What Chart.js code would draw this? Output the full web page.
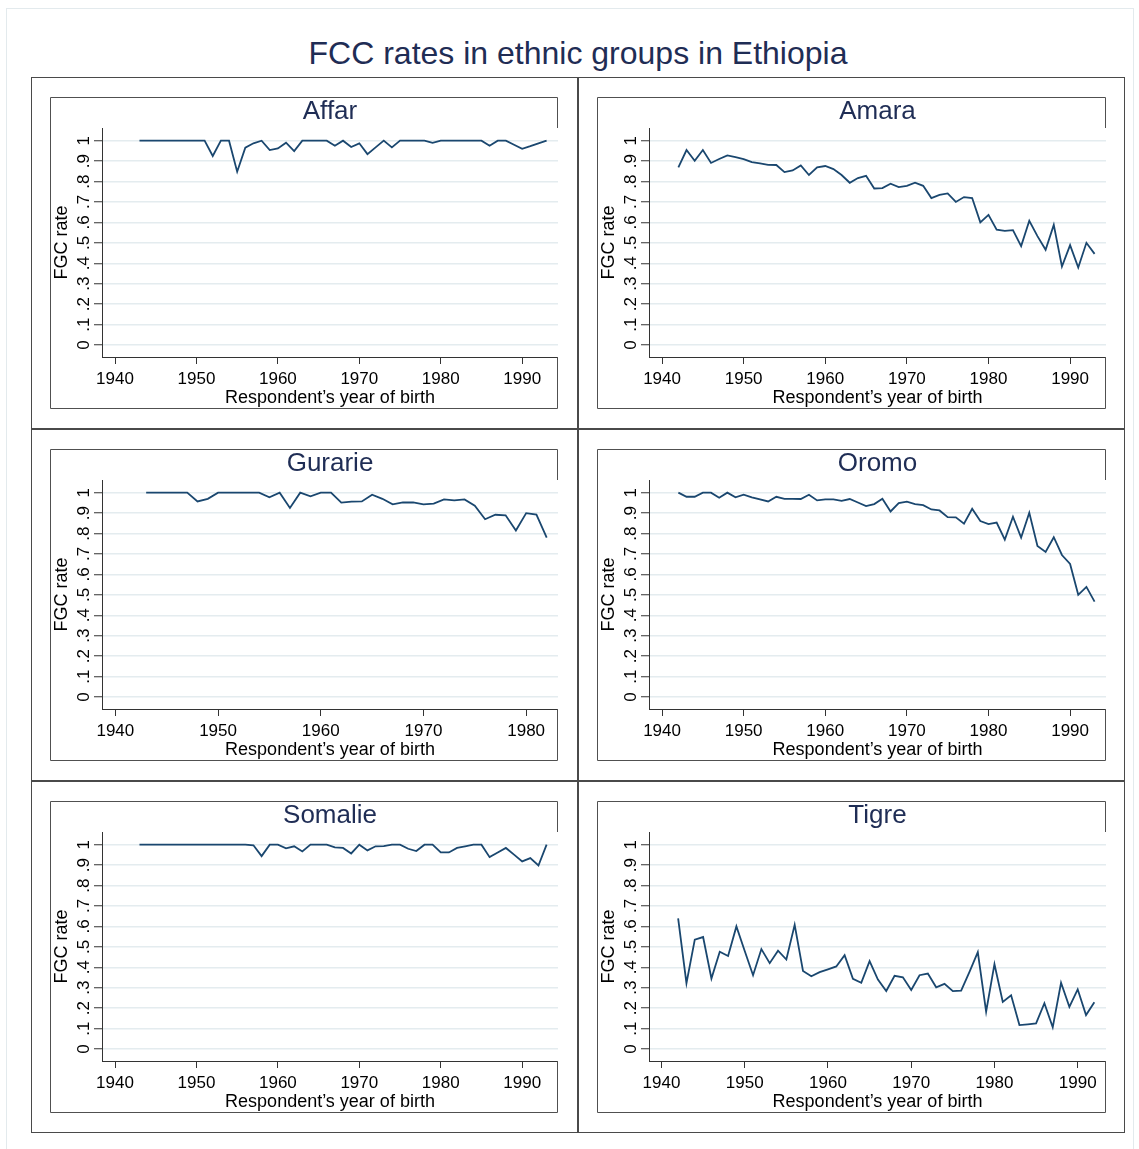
<!DOCTYPE html>
<html>
<head>
<meta charset="utf-8">
<script src="https://cdn.jsdelivr.net/npm/chart.js@4.4.1/dist/chart.umd.min.js"></script>
<style>
body{margin:0;background:#fff;font-family:"Liberation Sans",Arial,sans-serif;}
#page{position:relative;width:1139px;height:1149px;overflow:hidden;background:#fff;}
#edge{position:absolute;left:6px;top:8px;width:1126px;height:1160px;border:1px solid #e3eaed;}
#title{position:absolute;left:31px;width:1094px;top:35px;text-align:center;font-size:32px;line-height:36px;color:#1f2d55;}
.cell{position:absolute;width:547px;height:352px;box-sizing:border-box;border:1px solid #4a4a4a;}
canvas{position:absolute;}
</style>
</head>
<body>
<div id="page">
  <div id="edge"></div>
  <div id="title">FCC rates in ethnic groups in Ethiopia</div>
</div>
<script>
// groups in panel order (left to right, top to bottom)
const groups = ['Affar', 'Amara', 'Gurarie', 'Oromo', 'Somalie', 'Tigre'];

const years4393 = [1943,1944,1945,1946,1947,1948,1949,1950,1951,1952,1953,1954,1955,1956,1957,1958,1959,1960,1961,1962,
  1963,1964,1965,1966,1967,1968,1969,1970,1971,1972,1973,1974,1975,1976,1977,1978,1979,1980,1981,1982,
  1983,1984,1985,1986,1987,1988,1989,1990,1991,1992,1993];
const years4293 = [1942,1943,1944,1945,1946,1947,1948,1949,1950,1951,1952,1953,1954,1955,1956,1957,1958,1959,1960,1961,
  1962,1963,1964,1965,1966,1967,1968,1969,1970,1971,1972,1973,1974,1975,1976,1977,1978,1979,1980,1981,
  1982,1983,1984,1985,1986,1987,1988,1989,1990,1991,1992,1993];
const years4382 = [1943,1944,1945,1946,1947,1948,1949,1950,1951,1952,1953,1954,1955,1956,1957,1958,1959,1960,1961,1962,
  1963,1964,1965,1966,1967,1968,1969,1970,1971,1972,1973,1974,1975,1976,1977,1978,1979,1980,1981,1982];
const years4292 = [1942,1943,1944,1945,1946,1947,1948,1949,1950,1951,1952,1953,1954,1955,1956,1957,1958,1959,1960,1961,
  1962,1963,1964,1965,1966,1967,1968,1969,1970,1971,1972,1973,1974,1975,1976,1977,1978,1979,1980,1981,
  1982,1983,1984,1985,1986,1987,1988,1989,1990,1991,1992];

const affar = [1,1,1,1,1,1,1,1,1,.925,1,1,.848,.966,.987,1,.954,.962,.99,.949,
  1,1,1,1,.975,1,.969,.987,.934,.967,1,.967,1,1,1,1,.989,1,1,1,
  1,1,1,.975,1,1,.98,.96,.973,.987,1];
const amara = [.869,.954,.902,.954,.891,.91,.928,.92,.91,.895,.889,.882,.881,.846,.854,.879,.832,.869,.876,.861,
  .832,.794,.817,.828,.766,.768,.789,.773,.779,.794,.779,.719,.735,.742,.70,.724,.719,.60,.637,.564,
  .559,.562,.484,.608,.533,.466,.588,.384,.489,.379,.50,.446];
const gurarie = [1,1,1,1,1,.957,.97,1,1,1,1,1,.977,1,.925,1,.982,1,1,.951,
  .956,.957,.99,.97,.943,.952,.952,.943,.946,.967,.962,.967,.936,.87,.892,.889,.815,.90,.893,.78];
const oromo = [1,.98,.98,1,1,.975,1,.977,.99,.977,.967,.957,.98,.97,.97,.969,.99,.962,.967,.967,
  .96,.969,.952,.934,.944,.97,.908,.949,.956,.944,.939,.918,.913,.88,.879,.848,.921,.861,.846,.854,
  .77,.882,.78,.902,.739,.71,.782,.695,.651,.50,.539,.467];
const somalie = [1,1,1,1,1,1,1,1,1,1,1,1,1,1,.997,.944,1,1,.982,.992,
  .967,1,1,1,.987,.984,.957,1,.972,.992,.993,1,1,.98,.969,1,1,.962,.962,.984,
  .992,1,1,.939,.962,.984,.951,.918,.934,.898,1];
const tigre = [.639,.322,.535,.548,.345,.476,.455,.60,.48,.361,.489,.42,.481,.438,.608,.382,.356,.376,.39,.404,
  .459,.343,.324,.43,.34,.284,.358,.351,.289,.361,.369,.302,.319,.283,.286,.378,.474,.183,.415,.23,
  .263,.117,.121,.125,.224,.106,.324,.206,.292,.166,.229];

const yTicks = [0,.1,.2,.3,.4,.5,.6,.7,.8,.9,1];
const xTicks = [1940,1950,1960,1970,1980,1990];
const xTicksShort = [1940,1950,1960,1970,1980];

const panelYears = [years4393, years4293, years4382, years4293, years4393, years4292];
const panelValues = [affar, amara, gurarie, oromo, somalie, tigre];
const panelXTicks = [xTicks, xTicks, xTicksShort, xTicks, xTicks, xTicks];
const panelXMin = [1938.4, 1938.4, 1938.7, 1938.4, 1938.4, 1938.5];
const panelXMax = [1994.4, 1994.4, 1983.1, 1994.4, 1994.4, 1993.4];

const FONT = "'Liberation Sans', Arial, sans-serif";
const NAVY = '#1a476f';

// box around each subgraph; right edge hidden where the plot region is
const frame = {
  id: 'frame',
  afterDraw(chart){
    const {ctx, width: w, height: h, chartArea: a} = chart;
    ctx.save();
    ctx.strokeStyle = '#505050';
    ctx.lineWidth = 1;
    ctx.beginPath();
    ctx.moveTo(w - 0.5, a.top);
    ctx.lineTo(w - 0.5, 0.5);
    ctx.lineTo(0.5, 0.5);
    ctx.lineTo(0.5, h - 0.5);
    ctx.lineTo(w - 0.5, h - 0.5);
    ctx.lineTo(w - 0.5, a.bottom);
    ctx.stroke();
    ctx.restore();
  }
};

function yLabel(v){
  if(v === 0) return '0';
  if(v === 1) return '1';
  return '.' + Math.round(v * 10);
}

function makePanel(i){
  const col = i % 2, row = Math.floor(i / 2);
  const page = document.getElementById('page');
  const cell = document.createElement('div');
  cell.className = 'cell';
  cell.style.left = (31 + 547 * col) + 'px';
  cell.style.top = (77 + 352 * row) + 'px';
  page.appendChild(cell);

  const cv = document.createElement('canvas');
  cv.width = 508 + col;
  cv.height = 312;
  cv.style.left = (50 + 547 * col) + 'px';
  cv.style.top = (97 + 352 * row) + 'px';
  page.appendChild(cv);

  const years = panelYears[i], vals = panelValues[i];
  return new Chart(cv, {
    type: 'line',
    data: {
      datasets: [{
        data: years.map((y, k) => ({x: y, y: vals[k]})),
        borderColor: NAVY,
        borderWidth: 1.8,
        pointRadius: 0,
        tension: 0,
        fill: false
      }]
    },
    options: {
      responsive: false,
      animation: false,
      devicePixelRatio: 1,
      events: [],
      layout: { padding: 0 },
      plugins: {
        legend: { display: false },
        tooltip: { enabled: false },
        title: {
          display: true,
          fullSize: false,
          text: groups[i],
          color: '#1f2d55',
          font: { family: FONT, size: 26, weight: 'normal', lineHeight: 1 },
          padding: { top: 2, bottom: 3 }
        }
      },
      scales: {
        x: {
          type: 'linear',
          min: panelXMin[i],
          max: panelXMax[i],
          afterBuildTicks: s => { s.ticks = panelXTicks[i].map(v => ({value: v})); },
          afterFit: s => { s.height = 52; s.paddingLeft = 0; s.paddingRight = 0; },
          ticks: {
            color: '#000', autoSkip: false, maxRotation: 0, minRotation: 0, padding: 5,
            font: { family: FONT, size: 17 },
            callback: v => String(v)
          },
          grid: { drawOnChartArea: false, drawTicks: true, tickLength: 7, tickColor: '#333', tickWidth: 1 },
          border: { display: true, color: '#333', width: 1 },
          title: {
            display: true, text: 'Respondent\u2019s year of birth', color: '#000',
            font: { family: FONT, size: 18 }, padding: { top: 0, bottom: 0 }
          }
        },
        y: {
          min: -0.0587,
          max: 1.062,
          afterBuildTicks: s => { s.ticks = yTicks.map(v => ({value: v})); },
          afterFit: s => { s.width = 52; s.paddingTop = 0; s.paddingBottom = 0; },
          ticks: {
            color: '#000', minRotation: 90, maxRotation: 90, crossAlign: 'center', padding: 3,
            font: { family: FONT, size: 17 },
            callback: v => yLabel(v)
          },
          grid: { color: '#e4ecef', lineWidth: 1.5, drawTicks: true, tickLength: 8, tickColor: '#333', tickWidth: 1 },
          border: { display: true, color: '#333', width: 1 },
          title: {
            display: true, text: 'FGC rate', color: '#000',
            font: { family: FONT, size: 18 }, padding: { top: 1, bottom: 0 }
          }
        }
      }
    },
    plugins: [frame]
  });
}

groups.forEach((g, i) => makePanel(i));
</script>
</body>
</html>
